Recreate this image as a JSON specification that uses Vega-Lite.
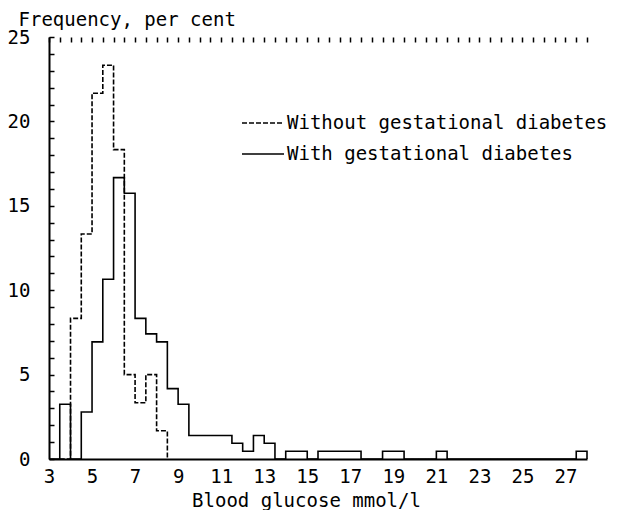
{
  "$schema": "https://vega.github.io/schema/vega-lite/v6.json",
  "width": 538,
  "height": 422,
  "autosize": {"type": "none"},
  "padding": {"left": 49, "top": 37, "right": 34, "bottom": 51},
  "background": "white",
  "config": {
    "view": {"stroke": null},
    "font": "DejaVu Sans Mono"
  },
  "data": {
    "values": [
      {"group": "With gestational diabetes", "x": 3.0, "pct": 0},
      {"group": "With gestational diabetes", "x": 3.5, "pct": 3.24},
      {"group": "With gestational diabetes", "x": 4.0, "pct": 0},
      {"group": "With gestational diabetes", "x": 4.5, "pct": 2.78},
      {"group": "With gestational diabetes", "x": 5.0, "pct": 6.94},
      {"group": "With gestational diabetes", "x": 5.5, "pct": 10.65},
      {"group": "With gestational diabetes", "x": 6.0, "pct": 16.67},
      {"group": "With gestational diabetes", "x": 6.5, "pct": 15.74},
      {"group": "With gestational diabetes", "x": 7.0, "pct": 8.33},
      {"group": "With gestational diabetes", "x": 7.5, "pct": 7.41},
      {"group": "With gestational diabetes", "x": 8.0, "pct": 6.94},
      {"group": "With gestational diabetes", "x": 8.5, "pct": 4.17},
      {"group": "With gestational diabetes", "x": 9.0, "pct": 3.24},
      {"group": "With gestational diabetes", "x": 9.5, "pct": 1.39},
      {"group": "With gestational diabetes", "x": 10.0, "pct": 1.39},
      {"group": "With gestational diabetes", "x": 10.5, "pct": 1.39},
      {"group": "With gestational diabetes", "x": 11.0, "pct": 1.39},
      {"group": "With gestational diabetes", "x": 11.5, "pct": 0.93},
      {"group": "With gestational diabetes", "x": 12.0, "pct": 0.46},
      {"group": "With gestational diabetes", "x": 12.5, "pct": 1.39},
      {"group": "With gestational diabetes", "x": 13.0, "pct": 0.93},
      {"group": "With gestational diabetes", "x": 13.5, "pct": 0},
      {"group": "With gestational diabetes", "x": 14.0, "pct": 0.46},
      {"group": "With gestational diabetes", "x": 14.5, "pct": 0.46},
      {"group": "With gestational diabetes", "x": 15.0, "pct": 0},
      {"group": "With gestational diabetes", "x": 15.5, "pct": 0.46},
      {"group": "With gestational diabetes", "x": 16.0, "pct": 0.46},
      {"group": "With gestational diabetes", "x": 16.5, "pct": 0.46},
      {"group": "With gestational diabetes", "x": 17.0, "pct": 0.46},
      {"group": "With gestational diabetes", "x": 17.5, "pct": 0},
      {"group": "With gestational diabetes", "x": 18.0, "pct": 0},
      {"group": "With gestational diabetes", "x": 18.5, "pct": 0.46},
      {"group": "With gestational diabetes", "x": 19.0, "pct": 0.46},
      {"group": "With gestational diabetes", "x": 19.5, "pct": 0},
      {"group": "With gestational diabetes", "x": 20.0, "pct": 0},
      {"group": "With gestational diabetes", "x": 20.5, "pct": 0},
      {"group": "With gestational diabetes", "x": 21.0, "pct": 0.46},
      {"group": "With gestational diabetes", "x": 21.5, "pct": 0},
      {"group": "With gestational diabetes", "x": 22.0, "pct": 0},
      {"group": "With gestational diabetes", "x": 22.5, "pct": 0},
      {"group": "With gestational diabetes", "x": 23.0, "pct": 0},
      {"group": "With gestational diabetes", "x": 23.5, "pct": 0},
      {"group": "With gestational diabetes", "x": 24.0, "pct": 0},
      {"group": "With gestational diabetes", "x": 24.5, "pct": 0},
      {"group": "With gestational diabetes", "x": 25.0, "pct": 0},
      {"group": "With gestational diabetes", "x": 25.5, "pct": 0},
      {"group": "With gestational diabetes", "x": 26.0, "pct": 0},
      {"group": "With gestational diabetes", "x": 26.5, "pct": 0},
      {"group": "With gestational diabetes", "x": 27.0, "pct": 0},
      {"group": "With gestational diabetes", "x": 27.5, "pct": 0.46},
      {"group": "With gestational diabetes", "x": 28.0, "pct": 0},
      {"group": "Without gestational diabetes", "x": 3.5, "pct": 0},
      {"group": "Without gestational diabetes", "x": 4.0, "pct": 8.33},
      {"group": "Without gestational diabetes", "x": 4.5, "pct": 13.33},
      {"group": "Without gestational diabetes", "x": 5.0, "pct": 21.67},
      {"group": "Without gestational diabetes", "x": 5.5, "pct": 23.33},
      {"group": "Without gestational diabetes", "x": 6.0, "pct": 18.33},
      {"group": "Without gestational diabetes", "x": 6.5, "pct": 5.0},
      {"group": "Without gestational diabetes", "x": 7.0, "pct": 3.33},
      {"group": "Without gestational diabetes", "x": 7.5, "pct": 5.0},
      {"group": "Without gestational diabetes", "x": 8.0, "pct": 1.67},
      {"group": "Without gestational diabetes", "x": 8.5, "pct": 0}
    ]
  },
  "mark": {"type": "line", "interpolate": "step-after", "color": "black", "strokeWidth": 1.6},
  "encoding": {
    "x": {
      "field": "x",
      "type": "quantitative",
      "scale": {"domain": [3, 28], "nice": false, "zero": false},
      "axis": {
        "orient": "bottom",
        "values": [3, 3.5, 4, 4.5, 5, 5.5, 6, 6.5, 7, 7.5, 8, 8.5, 9, 9.5, 10, 10.5, 11, 11.5, 12, 12.5, 13, 13.5, 14, 14.5, 15, 15.5, 16, 16.5, 17, 17.5, 18, 18.5, 19, 19.5, 20, 20.5, 21, 21.5, 22, 22.5, 23, 23.5, 24, 24.5, 25, 25.5, 26, 26.5, 27, 27.5, 28],
        "labelExpr": "datum.value % 2 == 1 ? format(datum.value, 'd') : ''",
        "labelOverlap": false,
        "labelBound": false,
        "labelFlush": false,
        "ticks": false,
        "grid": true,
        "gridColor": "black",
        "gridWidth": 1.5,
        "gridOpacity": 1,
        "gridDash": [5, 2000],
        "domainColor": "black",
        "domainWidth": 2,
        "labelColor": "black",
        "labelFont": "DejaVu Sans Mono",
        "labelFontSize": 19,
        "labelPadding": 8,
        "title": "Blood glucose mmol/l",
        "titleColor": "black",
        "titleFont": "DejaVu Sans Mono",
        "titleFontSize": 19,
        "titleFontWeight": "normal",
        "titleX": 257,
        "titleY": 47,
        "titleAlign": "center",
        "titleBaseline": "alphabetic"
      }
    },
    "y": {
      "field": "pct",
      "type": "quantitative",
      "scale": {"domain": [0, 25], "nice": false},
      "axis": {
        "orient": "left",
        "values": [0, 1, 2, 3, 4, 5, 6, 7, 8, 9, 10, 11, 12, 13, 14, 15, 16, 17, 18, 19, 20, 21, 22, 23, 24, 25],
        "labelExpr": "datum.value % 5 == 0 ? format(datum.value, 'd') : ''",
        "labelOverlap": false,
        "labelBound": false,
        "labelFlush": false,
        "ticks": false,
        "grid": true,
        "gridColor": "black",
        "gridWidth": 1.5,
        "gridOpacity": 1,
        "gridDash": [5, 2000],
        "domainColor": "black",
        "domainWidth": 2,
        "labelColor": "black",
        "labelFont": "DejaVu Sans Mono",
        "labelFontSize": 19,
        "labelPadding": 19,
        "title": "Frequency, per cent",
        "titleColor": "black",
        "titleFont": "DejaVu Sans Mono",
        "titleFontSize": 19,
        "titleFontWeight": "normal",
        "titleAngle": 0,
        "titleAlign": "left",
        "titleBaseline": "alphabetic",
        "titleX": -31,
        "titleY": -12
      }
    },
    "strokeDash": {
      "field": "group",
      "type": "nominal",
      "scale": {
        "domain": ["Without gestational diabetes", "With gestational diabetes"],
        "range": [[5, 2], [1, 0]]
      },
      "legend": {
        "title": null,
        "orient": "none",
        "legendX": 192,
        "legendY": 76,
        "padding": 0,
        "symbolType": "stroke",
        "symbolSize": 1764,
        "symbolStrokeColor": "black",
        "symbolStrokeWidth": 1.6,
        "labelFont": "DejaVu Sans Mono",
        "labelFontSize": 19,
        "labelColor": "black",
        "labelOffset": 2,
        "labelLimit": 0,
        "clipHeight": 20,
        "rowPadding": 11
      }
    }
  }
}
